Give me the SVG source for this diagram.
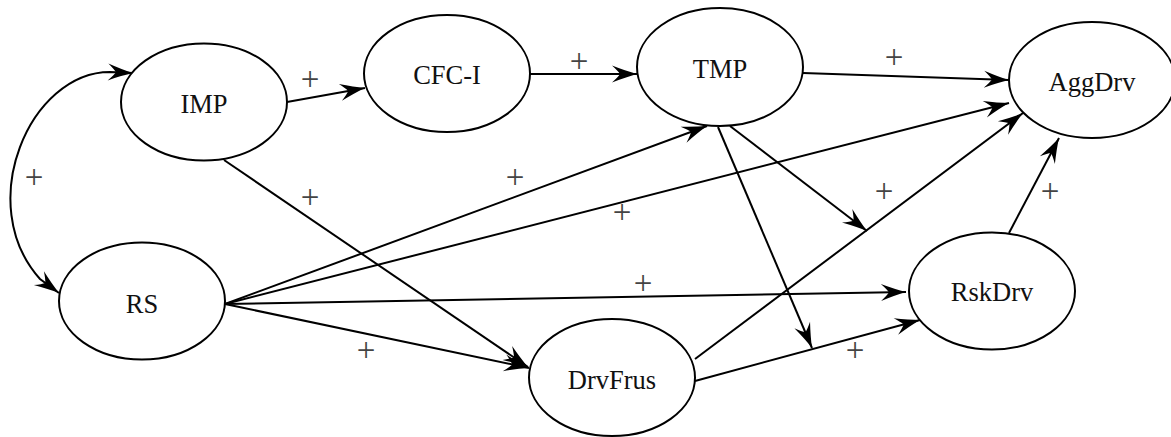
<svg xmlns="http://www.w3.org/2000/svg" width="1171" height="437" viewBox="0 0 1171 437">
  <style>
    .node ellipse { fill: #ffffff; stroke: #000000; stroke-width: 2; }
    .node text { font-family: "Liberation Serif", "Times New Roman", serif; font-size: 26.5px; fill: #111111; text-anchor: middle; }
    .edge { fill: none; stroke: #000000; stroke-width: 2; marker-end: url(#arrow); }
    .sign { font-family: "Liberation Serif", "Times New Roman", serif; font-size: 33px; fill: #444444; text-anchor: middle; }
  </style>
  <defs>
    <marker id="arrow" markerUnits="userSpaceOnUse" viewBox="-26 -10 28 20" markerWidth="28" markerHeight="20" refX="0" refY="0" orient="auto-start-reverse" overflow="visible">
      <path d="M0,0 Q-11,-3 -25,-8.5 Q-19,-3 -17,0 Q-19,3 -25,8.5 Q-11,3 0,0 Z" fill="#000000"/>
    </marker>
  </defs>

  <rect width="1171" height="437" fill="#ffffff"/>

  <!-- connectors -->
  <g id="connectors">
    <!-- IMP <-> RS (two-headed arc) -->
    <path class="edge" d="M133,73 L110,72 C30,72 -27,204 40,279 L59,293" marker-start="url(#arrow)"/>
    <path class="edge" d="M287,102 L365,88"/>
    <path class="edge" d="M530,74 L637,74"/>
    <path class="edge" d="M803,73 L1009,80"/>
    <path class="edge" d="M225,304 L1009,103"/>
    <path class="edge" d="M695,359 L1023,113"/>
    <path class="edge" d="M1009,233 L1059,138"/>
    <path class="edge" d="M225,304 L707,126"/>
    <path class="edge" d="M225,304 L906,292"/>
    <path class="edge" d="M225,304 L529,368"/>
    <path class="edge" d="M224,160 L528,367"/>
    <path class="edge" d="M695,381 L920,320"/>
    <!-- TMP moderates the two DrvFrus paths -->
    <path class="edge" d="M730,126 L867,231"/>
    <path class="edge" d="M718,127 L812,348"/>

    <!-- signs -->
    <text class="sign" x="34" y="187.5">+</text>
    <text class="sign" x="310" y="89.5">+</text>
    <text class="sign" x="310" y="207.5">+</text>
    <text class="sign" x="579" y="71.5">+</text>
    <text class="sign" x="515" y="187.5">+</text>
    <text class="sign" x="894" y="67.5">+</text>
    <text class="sign" x="884" y="201.5">+</text>
    <text class="sign" x="1050" y="201.5">+</text>
    <text class="sign" x="622" y="222.5">+</text>
    <text class="sign" x="643" y="293.5">+</text>
    <text class="sign" x="366" y="360.5">+</text>
    <text class="sign" x="855" y="360.5">+</text>
  </g>

  <!-- nodes -->
  <g id="IMP" class="node">
    <ellipse cx="204" cy="102" rx="83" ry="58.5"/>
    <text x="204" y="113">IMP</text>
  </g>
  <g id="CFC-I" class="node">
    <ellipse cx="447" cy="73.5" rx="83" ry="58.5"/>
    <text x="447" y="84">CFC-I</text>
  </g>
  <g id="TMP" class="node">
    <ellipse cx="720" cy="67" rx="83" ry="59"/>
    <text x="720" y="78">TMP</text>
  </g>
  <g id="AggDrv" class="node">
    <ellipse cx="1092" cy="80" rx="83" ry="58"/>
    <text x="1092" y="90.5">AggDrv</text>
  </g>
  <g id="RS" class="node">
    <ellipse cx="142" cy="301" rx="83" ry="58.5"/>
    <text x="142" y="312.5">RS</text>
  </g>
  <g id="DrvFrus" class="node">
    <ellipse cx="612" cy="377.5" rx="83" ry="58.5"/>
    <text x="612" y="389">DrvFrus</text>
  </g>
  <g id="RskDrv" class="node">
    <ellipse cx="992" cy="291" rx="83" ry="58.5"/>
    <text x="992" y="301">RskDrv</text>
  </g>
</svg>
